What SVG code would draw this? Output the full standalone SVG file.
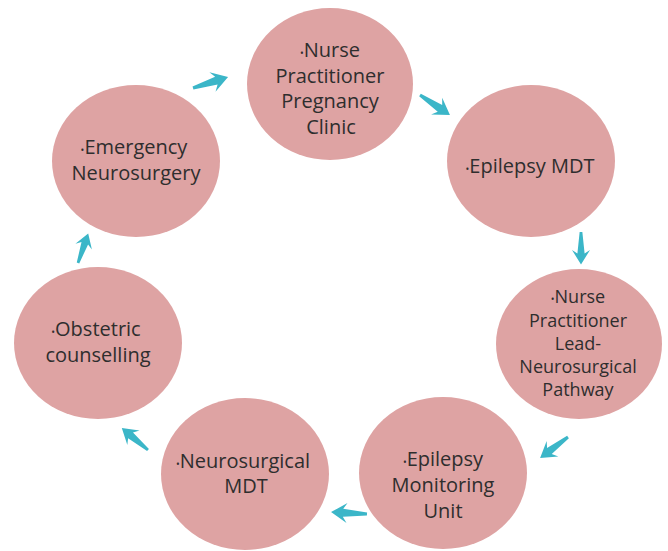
<svg xmlns="http://www.w3.org/2000/svg" xmlns:xlink="http://www.w3.org/1999/xlink" width="668" height="551" viewBox="0 0 668 551">
  <style>
    .node { fill: #dea3a3; }
    .lbl { font-family: "Open Sans", "Liberation Sans", sans-serif; font-size: 20px; fill: #2e2e2e; text-anchor: middle; }
    .sm { font-size: 18px; }
    .b { font-size: 10px; }
    .arrow { fill: #3bb6c8; }
  </style>
  <defs>
    <path id="arr" d="M0,-1.5 L24,-4 L20,-10 L36,0 L20,10 L24,4 L0,1.5 Z"/>
  </defs>
  <rect width="668" height="551" fill="#ffffff"/>

  <g id="node-np-pregnancy">
    <ellipse class="node" cx="330" cy="84" rx="83" ry="76"/>
    <text class="lbl"><tspan x="330" y="57"><tspan class="b">•</tspan>Nurse</tspan><tspan x="330" y="83">Practitioner</tspan><tspan x="330" y="108">Pregnancy</tspan><tspan x="331" y="134">Clinic</tspan></text>
  </g>
  <g id="node-epilepsy-mdt">
    <ellipse class="node" cx="531" cy="161" rx="84" ry="76"/>
    <text class="lbl"><tspan x="530" y="173"><tspan class="b">•</tspan>Epilepsy MDT</tspan></text>
  </g>
  <g id="node-np-lead">
    <ellipse class="node" cx="579" cy="344" rx="83" ry="75"/>
    <text class="lbl sm"><tspan x="578" y="303"><tspan class="b">•</tspan>Nurse</tspan><tspan x="578" y="327">Practitioner</tspan><tspan x="578" y="350">Lead-</tspan><tspan x="578" y="373">Neurosurgical</tspan><tspan x="578" y="396">Pathway</tspan></text>
  </g>
  <g id="node-emu">
    <ellipse class="node" cx="443" cy="473" rx="84" ry="76"/>
    <text class="lbl"><tspan x="443" y="466"><tspan class="b">•</tspan>Epilepsy</tspan><tspan x="443" y="492">Monitoring</tspan><tspan x="443" y="518">Unit</tspan></text>
  </g>
  <g id="node-neuro-mdt">
    <ellipse class="node" cx="245" cy="474" rx="84" ry="76"/>
    <text class="lbl"><tspan x="243" y="468"><tspan class="b">•</tspan>Neurosurgical</tspan><tspan x="246" y="493">MDT</tspan></text>
  </g>
  <g id="node-obstetric">
    <ellipse class="node" cx="98" cy="343" rx="84" ry="76"/>
    <text class="lbl"><tspan x="96" y="336"><tspan class="b">•</tspan>Obstetric</tspan><tspan x="98" y="362">counselling</tspan></text>
  </g>
  <g id="node-emergency">
    <ellipse class="node" cx="136" cy="161" rx="84" ry="76"/>
    <text class="lbl"><tspan x="134" y="154"><tspan class="b">•</tspan>Emergency</tspan><tspan x="136" y="180">Neurosurgery</tspan></text>
  </g>

  <g id="connectors" class="arrow">
    <use xlink:href="#arr" href="#arr" transform="translate(193,88) rotate(-17.4) scale(1.02)"/>
    <use xlink:href="#arr" href="#arr" transform="translate(420,95) rotate(33.7) scale(1)"/>
    <use xlink:href="#arr" href="#arr" transform="translate(581,232) rotate(90) scale(0.9)"/>
    <use xlink:href="#arr" href="#arr" transform="translate(568,437) rotate(143) scale(0.97)"/>
    <use xlink:href="#arr" href="#arr" transform="translate(367,514) rotate(183) scale(1)"/>
    <use xlink:href="#arr" href="#arr" transform="translate(148,450) rotate(220) scale(0.95)"/>
    <use xlink:href="#arr" href="#arr" transform="translate(78,263) rotate(-71) scale(0.87)"/>
  </g>
</svg>
